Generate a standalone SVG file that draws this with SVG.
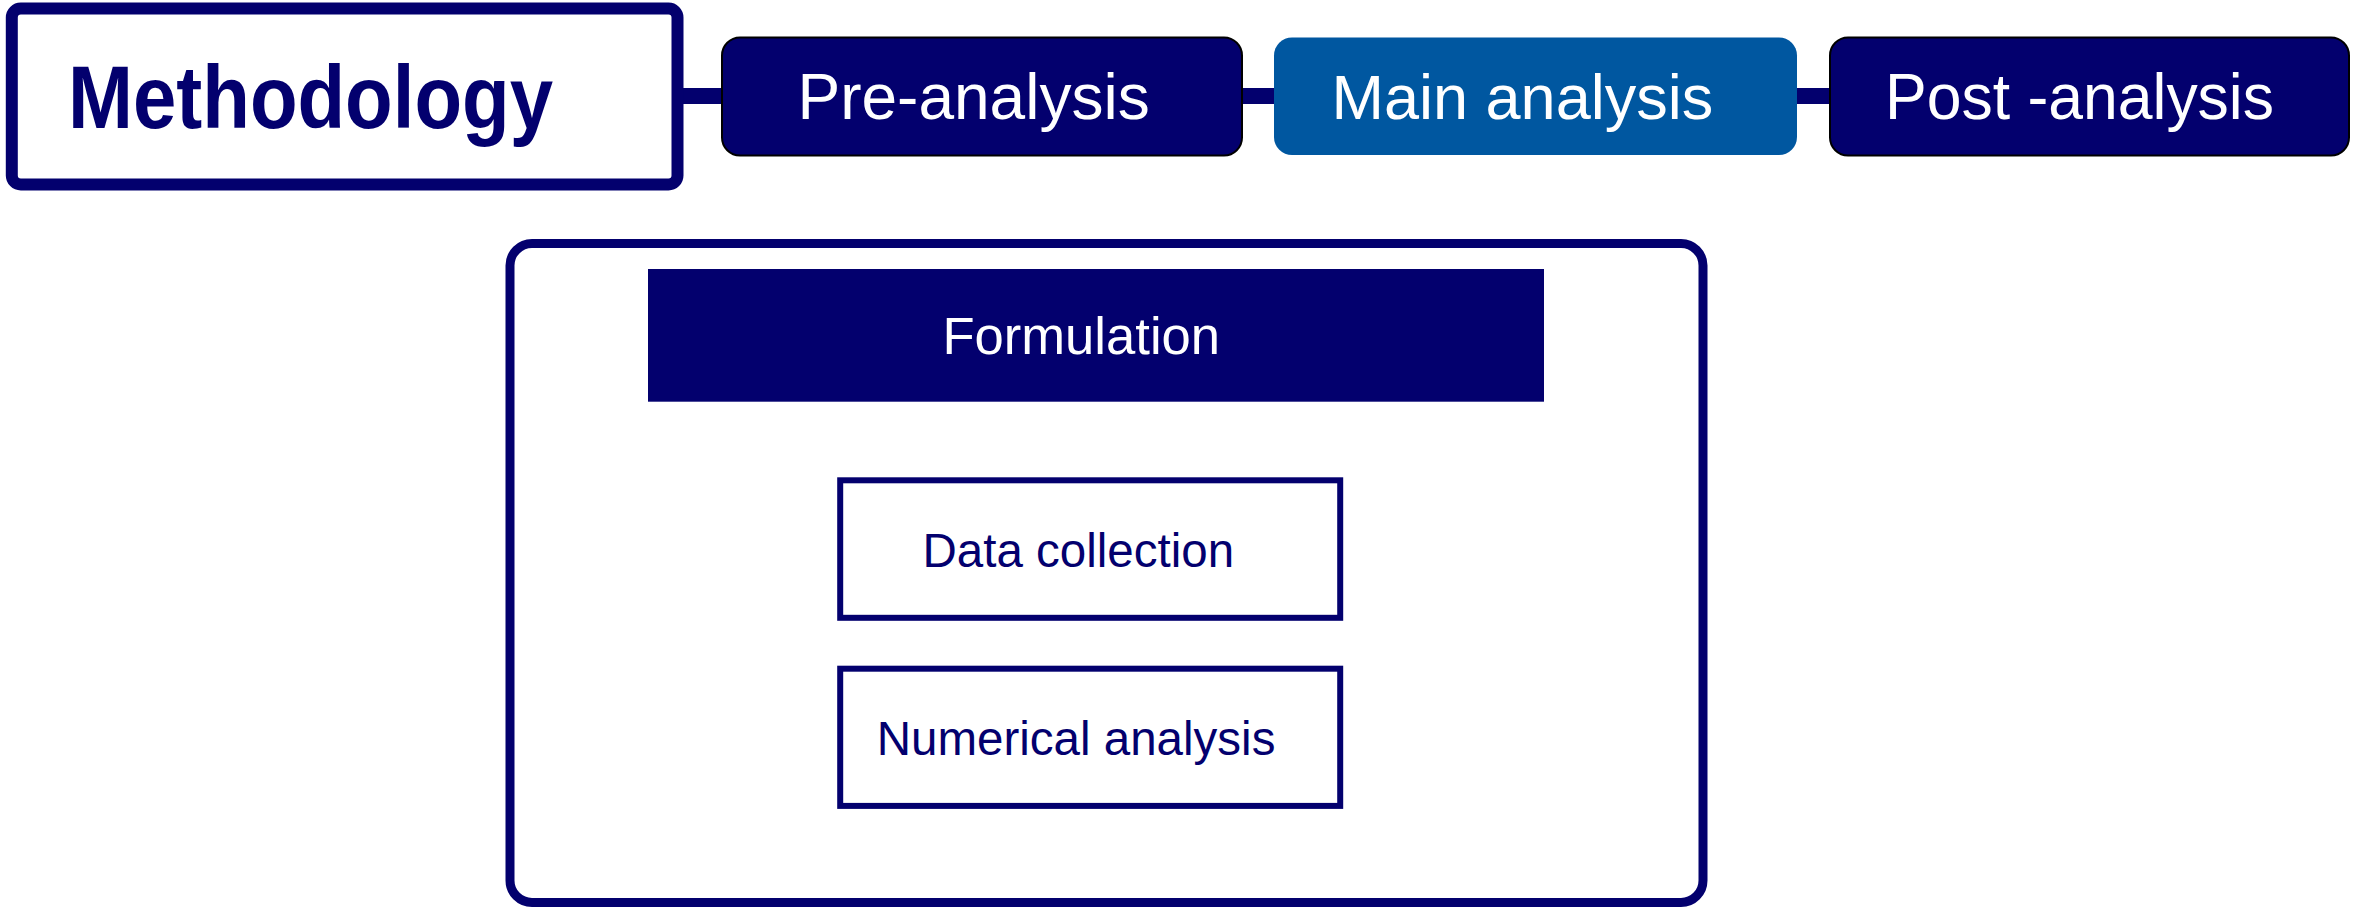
<svg xmlns="http://www.w3.org/2000/svg" width="2358" height="907" viewBox="0 0 2358 907">
  <style>
    .navy-fill { fill: #03006E; }
    .phase { stroke: #000000; stroke-width: 2; }
    .lbl { font-family: "Liberation Sans", Arial, sans-serif; }
    .white { fill: #FFFFFF; }
    .dark { fill: #03006E; }
    .outline { fill: #FFFFFF; stroke: #03006E; }
    .link { stroke: #03006E; stroke-width: 16; fill: none; }
  </style>
  <rect width="2358" height="907" fill="#FFFFFF"/>

  <!-- connectors between the stage boxes -->
  <g id="connectors">
    <line class="link" x1="678" y1="96" x2="724" y2="96"/>
    <line class="link" x1="1240" y1="96" x2="1276" y2="96"/>
    <line class="link" x1="1795" y1="96" x2="1832" y2="96"/>
  </g>

  <g id="methodology">
    <rect class="outline" x="11.8" y="8.5" width="665.7" height="176" rx="9" stroke-width="12"/>
    <text class="lbl dark" x="68" y="127.5" font-size="89" font-weight="bold" textLength="485" lengthAdjust="spacingAndGlyphs">Methodology</text>
  </g>

  <g id="pre-analysis">
    <rect class="navy-fill phase" x="722" y="37.5" width="520" height="118" rx="18"/>
    <text class="lbl white" x="797.5" y="119" font-size="64">Pre-analysis</text>
  </g>

  <g id="main-analysis">
    <rect x="1274" y="37.5" width="523" height="117.5" rx="18" fill="#0057A0"/>
    <text class="lbl white" x="1331.5" y="119" font-size="63">Main analysis</text>
  </g>

  <g id="post-analysis">
    <rect class="navy-fill phase" x="1830" y="37.5" width="519" height="118" rx="18"/>
    <text class="lbl white" x="1885" y="119" font-size="64" textLength="389" lengthAdjust="spacingAndGlyphs">Post -analysis</text>
  </g>

  <g id="main-analysis-detail">
    <rect class="outline" x="510" y="243.5" width="1193" height="659" rx="22" stroke-width="9"/>
  </g>

  <g id="formulation">
    <rect class="navy-fill" x="648" y="269" width="896" height="132.7"/>
    <text class="lbl white" x="942.4" y="354.3" font-size="52.6">Formulation</text>
  </g>

  <g id="data-collection">
    <rect class="outline" x="840.2" y="480.3" width="500" height="137.5" stroke-width="6"/>
    <text class="lbl dark" x="922.5" y="566.7" font-size="47.5">Data collection</text>
  </g>

  <g id="numerical-analysis">
    <rect class="outline" x="840.2" y="668.7" width="500" height="137.2" stroke-width="6"/>
    <text class="lbl dark" x="876.8" y="755" font-size="47.5">Numerical analysis</text>
  </g>
</svg>
